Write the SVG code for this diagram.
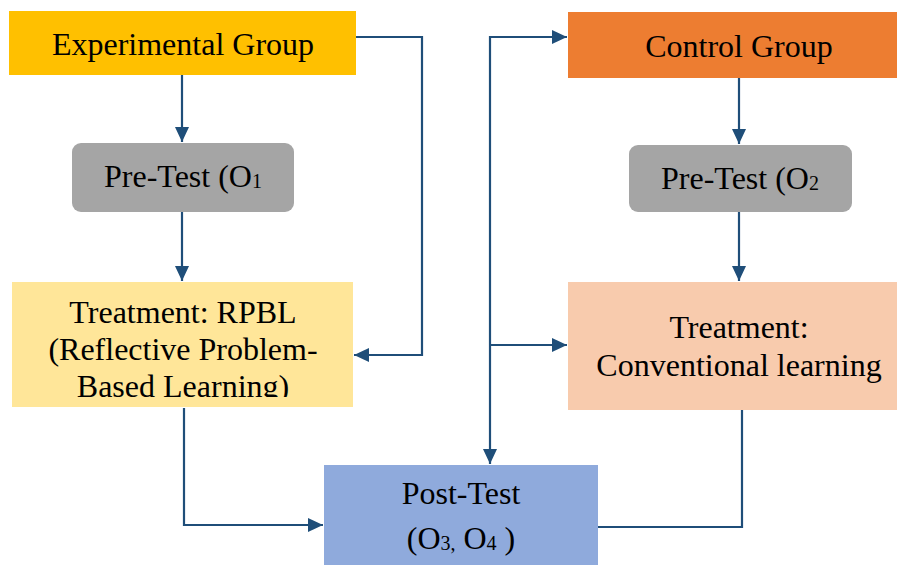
<svg xmlns="http://www.w3.org/2000/svg" width="897" height="565" viewBox="0 0 897 565">
<style>
.t{font-family:"Liberation Serif","Times New Roman",serif;font-size:32px;fill:#000;text-anchor:middle}
.s{font-size:20px}
.c{fill:none;stroke:#1F4E79;stroke-width:2.2}
</style>
<defs>
<marker id="ah" markerUnits="userSpaceOnUse" markerWidth="16" markerHeight="14" refX="15" refY="7" orient="auto">
<path d="M0,0 L15,7 L0,14 Z" fill="#1F4E79"/>
</marker>
<clipPath id="clipT1"><rect x="12" y="282" width="341" height="115"/></clipPath>
</defs>
<rect width="897" height="565" fill="#fff"/>
<g id="connectors">
<path class="c" d="M182,75 V142" marker-end="url(#ah)"/>
<path class="c" d="M182,212 V281" marker-end="url(#ah)"/>
<path class="c" d="M356,37 H422 V355 H354" marker-end="url(#ah)"/>
<path class="c" d="M184,408 V525 H323" marker-end="url(#ah)"/>
<path class="c" d="M739,78 V144" marker-end="url(#ah)"/>
<path class="c" d="M739,212 V281" marker-end="url(#ah)"/>
<path class="c" d="M490,345 V464" marker-end="url(#ah)"/>
<path class="c" d="M490,345 V37 H567" marker-end="url(#ah)"/>
<path class="c" d="M490,345 H567" marker-end="url(#ah)"/>
<path class="c" d="M742,408 V527 H598"/>
</g>
<g id="experimental">
<rect x="9" y="11" width="347" height="64" fill="#FFC000"/>
<text class="t" x="183" y="55">Experimental Group</text>
</g>
<g id="control">
<rect x="568" y="12" width="329" height="66" fill="#ED7D31"/>
<text class="t" x="739" y="57">Control Group</text>
</g>
<g id="pretest1">
<rect x="72" y="143" width="222" height="69" rx="9" fill="#A5A5A5"/>
<text class="t" x="183" y="187">Pre-Test (O<tspan class="s" dy="1">1</tspan></text>
</g>
<g id="pretest2">
<rect x="629" y="145" width="223" height="67" rx="9" fill="#A5A5A5"/>
<text class="t" x="740" y="189">Pre-Test (O<tspan class="s" dy="1">2</tspan></text>
</g>
<g id="treatment1">
<rect x="12" y="282" width="341" height="125" fill="#FFE699"/>
<g clip-path="url(#clipT1)">
<text class="t" x="183" y="323">Treatment: RPBL</text>
<text class="t" x="183" y="360">(Reflective Problem-</text>
<text class="t" x="183" y="397">Based Learning)</text>
</g>
</g>
<g id="treatment2">
<rect x="568" y="282" width="329" height="128" fill="#F8CBAD"/>
<text class="t" x="739" y="338">Treatment:</text>
<text class="t" x="739" y="376">Conventional learning</text>
</g>
<g id="posttest">
<rect x="324" y="465" width="274" height="100" fill="#8FAADC"/>
<text class="t" x="461" y="504">Post-Test</text>
<text class="t" x="461" y="549">(O<tspan class="s" dy="1">3,</tspan><tspan dy="-1"> O</tspan><tspan class="s" dy="1">4</tspan><tspan dy="-1"> )</tspan></text>
</g>
</svg>
